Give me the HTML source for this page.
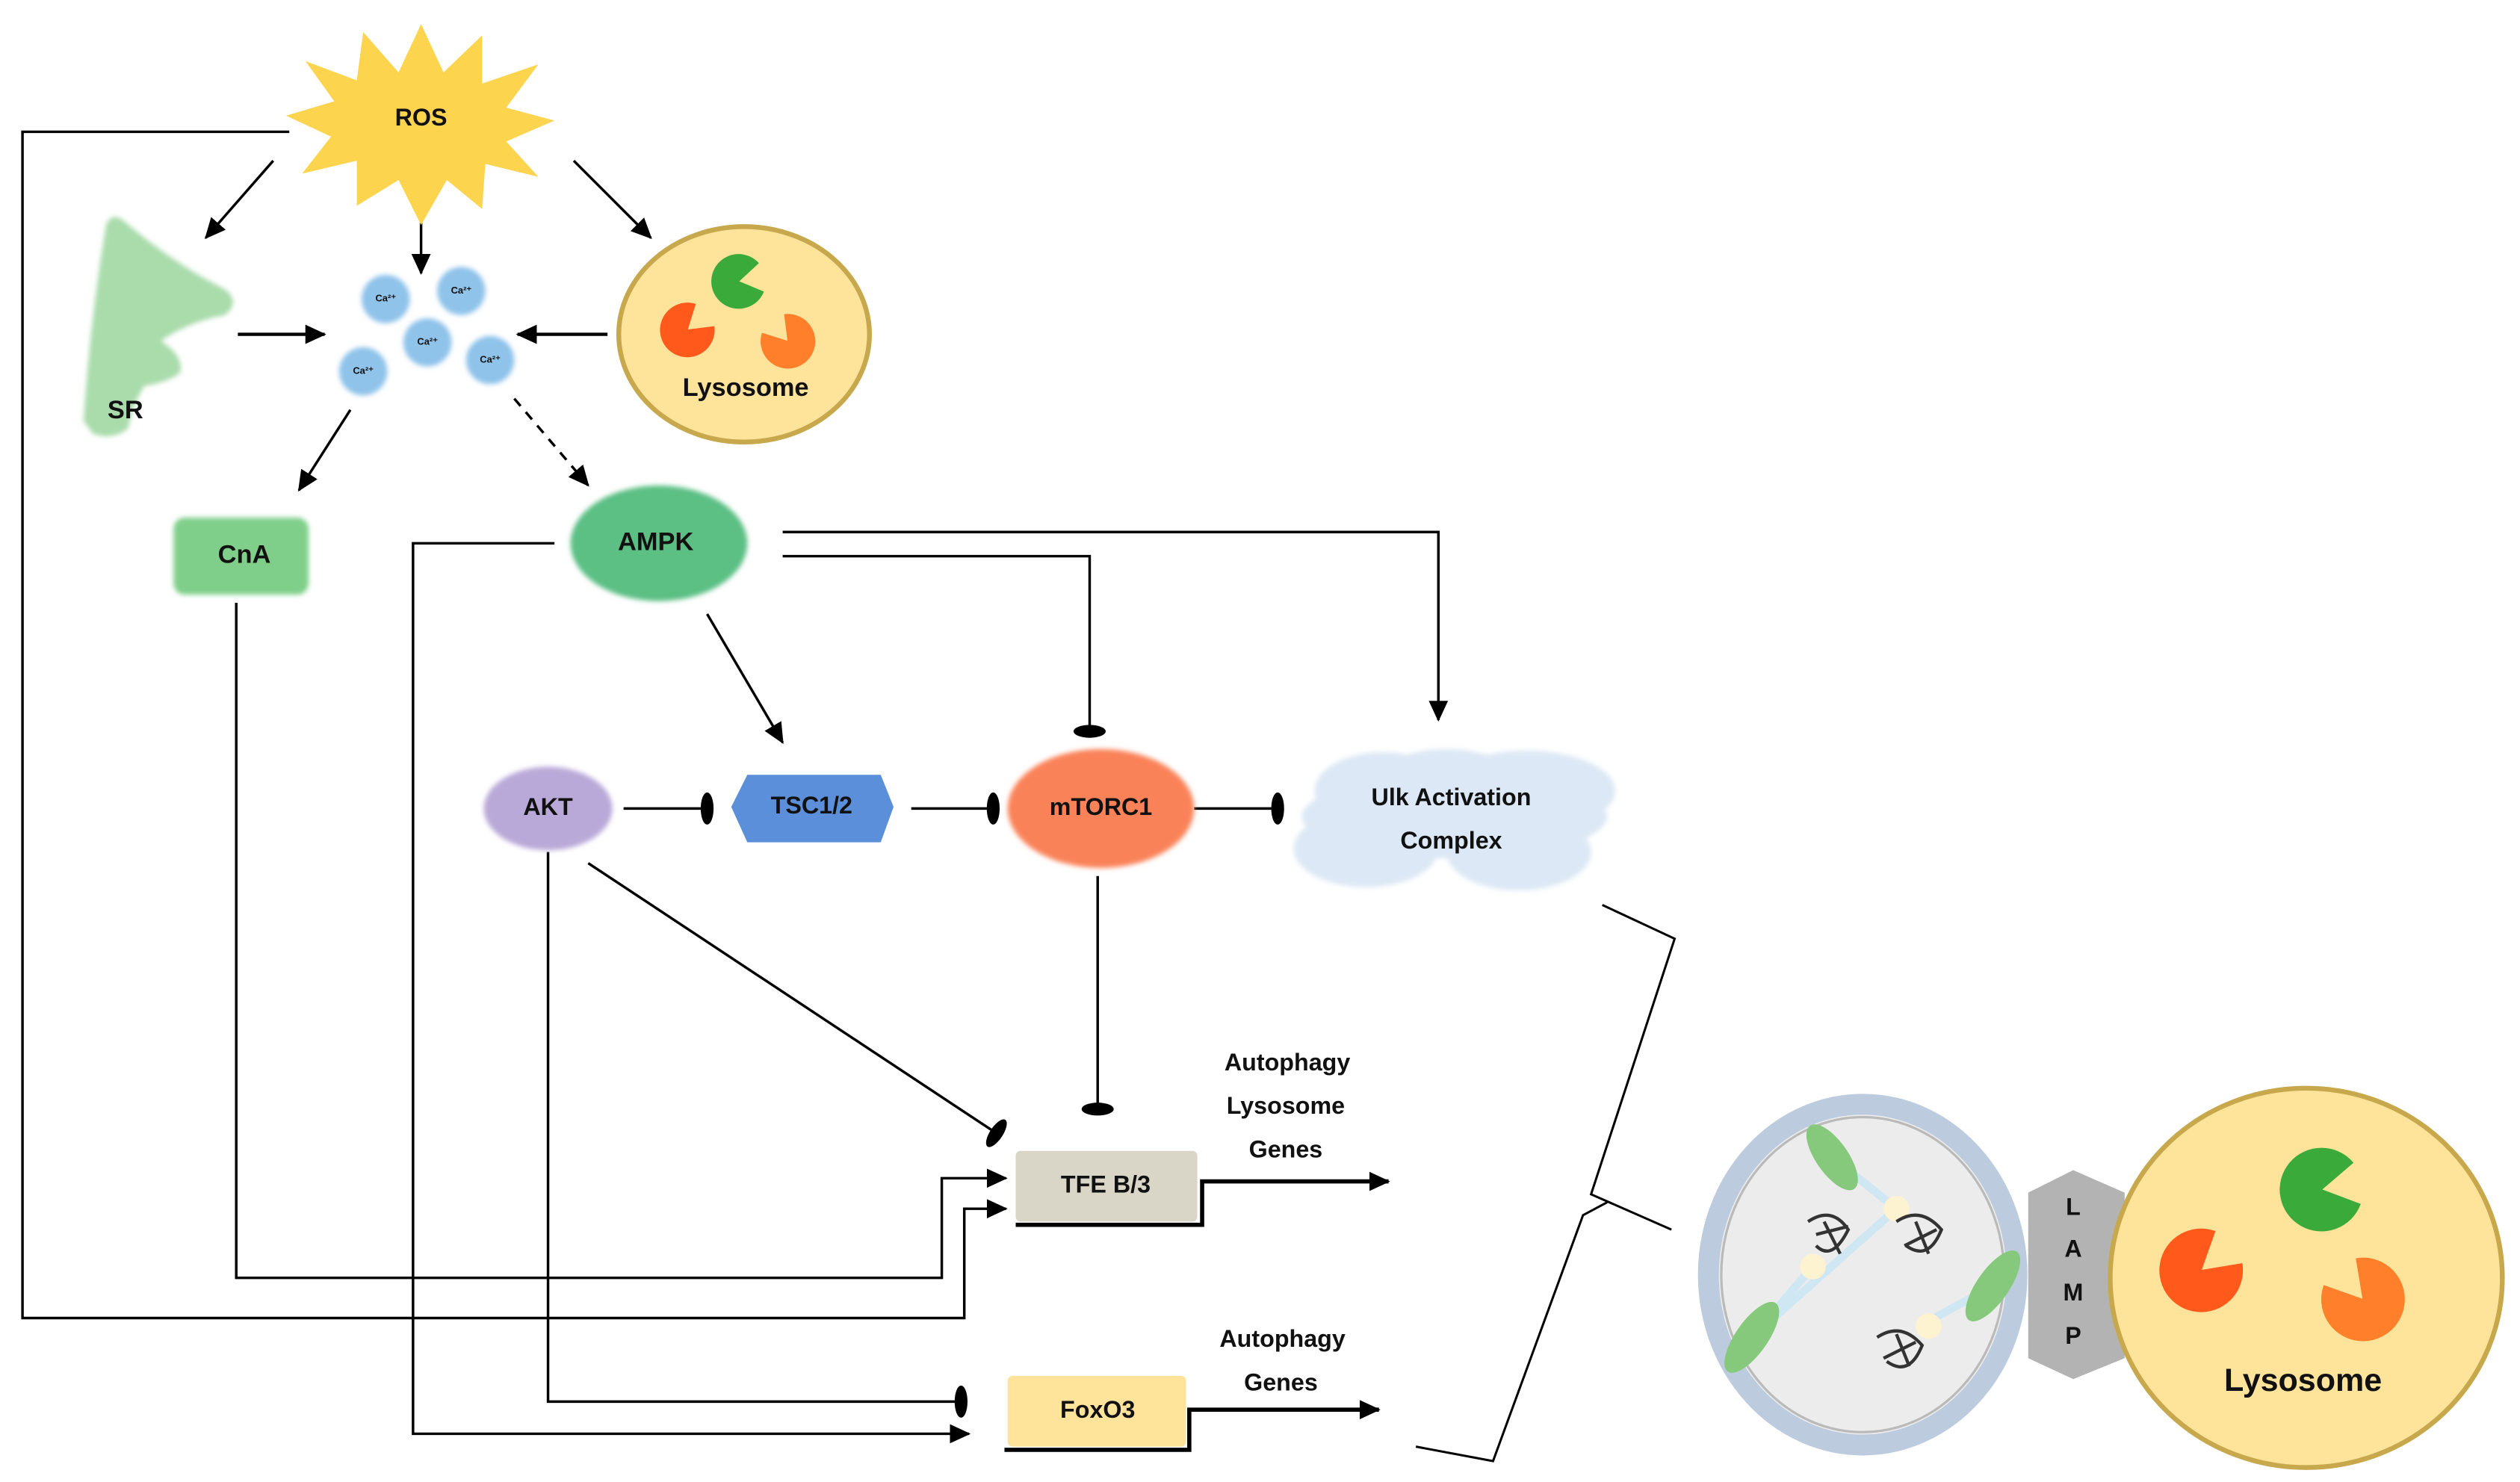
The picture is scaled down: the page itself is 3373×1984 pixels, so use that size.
<!DOCTYPE html>
<html><head><meta charset="utf-8"><style>
html,body{margin:0;padding:0;background:#fff;}
svg{display:block;}
text{font-family:"Liberation Sans",sans-serif;font-weight:bold;fill:#111;text-anchor:middle;dominant-baseline:middle;}
</style></head><body>
<svg width="3373" height="1984" viewBox="0 0 1568 922" preserveAspectRatio="none" xmlns="http://www.w3.org/2000/svg">
<defs>
<marker id="ar" markerUnits="userSpaceOnUse" markerWidth="14" markerHeight="12" refX="12" refY="6" orient="auto"><path d="M0,0 L13,6 L0,12 Z" fill="#000"/></marker>
<marker id="bar" markerUnits="userSpaceOnUse" markerWidth="10" markerHeight="24" refX="5" refY="12" orient="auto"><ellipse cx="5" cy="12" rx="4" ry="10" fill="#000"/></marker>
<filter id="bl"><feGaussianBlur stdDeviation="1.5"/></filter>
</defs>
<g fill="none" stroke="#000" stroke-width="1.6">
<path d="M180,82 H14 V820 H600 V752 H626" marker-end="url(#ar)"/>
<path d="M170,100 L128,148" marker-end="url(#ar)"/>
<path d="M262,115 V170" marker-end="url(#ar)"/>
<path d="M357,100 L405,148" marker-end="url(#ar)"/>
<path d="M148,208 H202" stroke-width="2" marker-end="url(#ar)"/>
<path d="M378,208 H322" stroke-width="2" marker-end="url(#ar)"/>
<path d="M218,255 L186,305" marker-end="url(#ar)"/>
<path d="M320,248 L366,302" stroke-dasharray="6,5" marker-end="url(#ar)"/>
<path d="M147,375 V795 H586 V733 H626" marker-end="url(#ar)"/>
<path d="M345,338 H257 V892 H603" marker-end="url(#ar)"/>
<path d="M487,331 H895 V448" marker-end="url(#ar)"/>
<path d="M487,346 H678 V455" marker-end="url(#bar)"/>
<path d="M440,382 L487,462" marker-end="url(#ar)"/>
<path d="M388,503 H440" marker-end="url(#bar)"/>
<path d="M567,503 H618" marker-end="url(#bar)"/>
<path d="M743,503 H795" marker-end="url(#bar)"/>
<path d="M683,545 V690" marker-end="url(#bar)"/>
<path d="M341,530 V872 H598" marker-end="url(#bar)"/>
<path d="M366,537 L620,705" marker-end="url(#bar)"/>
<path d="M632,762 H748 V735 H864" stroke-width="2.6" marker-end="url(#ar)"/>
<path d="M625,902 H740 V877 H858" stroke-width="2.6" marker-end="url(#ar)"/>
<path d="M997,563 L1042,584 L990,743 L1040,765 M1000,748 L985,756 L929,909 L881,900" stroke-width="1.4"/>
</g>
<polygon fill="#fdd44e" points="262,15 276,45 300,22 300,52 335,40 315,67 345,75 315,88 335,110 302,102 300,130 278,112 262,140 248,112 222,128 222,100 188,108 206,85 178,72 208,63 190,38 222,50 226,20 248,45"/>
<text x="262" y="74" font-size="15">ROS</text>
<path d="M52,262 Q56,200 66,140 Q70,130 80,140 Q110,165 140,180 Q150,188 140,196 Q118,200 100,212 Q115,222 112,232 Q104,238 90,240 Q82,252 80,266 Q72,274 58,270 Z" fill="#a9dbab" filter="url(#bl)"/>
<text x="78" y="256" font-size="16">SR</text>
<g fill="#8fc3ea" filter="url(#bl)">
<circle cx="240" cy="186" r="15"/><circle cx="287" cy="181" r="15"/><circle cx="266" cy="213" r="15"/><circle cx="226" cy="231" r="15"/><circle cx="305" cy="224" r="15"/></g>
<g font-size="6"><text x="240" y="186">Ca²⁺</text><text x="287" y="181">Ca²⁺</text><text x="266" y="213">Ca²⁺</text><text x="226" y="231">Ca²⁺</text><text x="305" y="224">Ca²⁺</text></g>
<ellipse cx="463" cy="208" rx="78" ry="67" fill="#fde49a" stroke="#c8a84c" stroke-width="3"/>
<path transform="translate(460,175) rotate(-10)" d="M0,0 L14,-9 A17,17 0 1 0 14,9 Z" fill="#3aaa3a"/>
<path transform="translate(428,205) rotate(-40)" d="M0,0 L14,-9 A17,17 0 1 0 14,9 Z" fill="#ff5a1c"/>
<path transform="translate(490,212) rotate(-130)" d="M0,0 L14,-9 A17,17 0 1 0 14,9 Z" fill="#ff7f2a"/>
<text x="464" y="242" font-size="16">Lysosome</text>
<rect x="108" y="322" width="84" height="48" rx="7" fill="#7fcf8a" filter="url(#bl)"/>
<text x="152" y="346" font-size="16">CnA</text>
<ellipse cx="410" cy="338" rx="55" ry="36" fill="#5cbf84" filter="url(#bl)"/>
<text x="408" y="338" font-size="16">AMPK</text>
<ellipse cx="341" cy="503" rx="40" ry="26" fill="#b9a9d8" filter="url(#bl)"/>
<text x="341" y="503" font-size="15">AKT</text>
<polygon points="465,482 548,482 556,502 548,524 465,524 455,502" fill="#5b8fd9"/>
<text x="505" y="502" font-size="15">TSC1/2</text>
<ellipse cx="685" cy="503" rx="58" ry="37" fill="#fa8258" filter="url(#bl)"/>
<text x="685" y="503" font-size="15">mTORC1</text>
<g fill="#dce8f5" filter="url(#bl)">
<ellipse cx="860" cy="492" rx="42" ry="24"/><ellipse cx="950" cy="492" rx="55" ry="25"/><ellipse cx="905" cy="508" rx="95" ry="26"/><ellipse cx="850" cy="528" rx="45" ry="24"/><ellipse cx="945" cy="530" rx="45" ry="24"/><ellipse cx="900" cy="488" rx="45" ry="22"/></g>
<text x="903" y="497" font-size="15">Ulk Activation</text>
<text x="903" y="524" font-size="15">Complex</text>
<rect x="632" y="716" width="113" height="44" rx="3" fill="#d9d6c8"/>
<text x="688" y="738" font-size="15">TFE B/3</text>
<g font-size="15"><text x="801" y="662">Autophagy</text><text x="800" y="689">Lysosome</text><text x="800" y="716">Genes</text>
<text x="798" y="834">Autophagy</text><text x="797" y="861">Genes</text></g>
<rect x="627" y="856" width="111" height="44" rx="3" fill="#fde49a"/>
<text x="683" y="878" font-size="15">FoxO3</text>
<ellipse cx="1159" cy="793" rx="96" ry="106" fill="#ececec" stroke="#bccbde" stroke-width="13"/>
<ellipse cx="1159" cy="793" rx="88" ry="98" fill="none" stroke="#999" stroke-width="1.5" opacity="0.6"/>
<g stroke="#cfe6f3" stroke-width="5"><line x1="1090" y1="832" x2="1180" y2="752"/><line x1="1140" y1="720" x2="1180" y2="752"/><line x1="1200" y1="822" x2="1240" y2="800"/><line x1="1090" y1="832" x2="1128" y2="788"/></g>
<g fill="#86c97c"><ellipse cx="1140" cy="720" rx="10" ry="24" transform="rotate(-35 1140 720)"/><ellipse cx="1090" cy="832" rx="10" ry="26" transform="rotate(35 1090 832)"/><ellipse cx="1240" cy="800" rx="10" ry="26" transform="rotate(35 1240 800)"/></g>
<g fill="#fdf3d0"><circle cx="1180" cy="752" r="8"/><circle cx="1128" cy="788" r="8"/><circle cx="1200" cy="825" r="8"/></g>
<g fill="none" stroke="#333" stroke-width="2"><path d="M1125,760 q15,-10 25,5 q-10,20 -20,10 M1130,768 l20,-5 M1135,760 l10,20"/><path d="M1180,760 q15,-10 28,5 q-8,20 -22,10 M1185,775 l20,-10 M1192,760 l8,20"/><path d="M1168,832 q15,-10 28,5 q-8,20 -22,10 M1172,845 l20,-10 M1180,830 l8,20"/></g>
<polygon points="1290,728 1322,742 1322,845 1290,858 1262,845 1262,742" fill="#b3b3b3"/>
<g font-size="15" font-weight="normal"><text x="1290" y="752">L</text><text x="1290" y="778">A</text><text x="1290" y="805">M</text><text x="1290" y="832">P</text></g>
<ellipse cx="1435" cy="795" rx="122" ry="118" fill="#fde49a" stroke="#c8a84c" stroke-width="3"/>
<path transform="translate(1445,740) rotate(-10)" d="M0,0 L22,-13 A26,26 0 1 0 22,13 Z" fill="#3aaa3a"/>
<path transform="translate(1370,790) rotate(-40)" d="M0,0 L22,-13 A26,26 0 1 0 22,13 Z" fill="#ff5a1c"/>
<path transform="translate(1470,808) rotate(-130)" d="M0,0 L22,-13 A26,26 0 1 0 22,13 Z" fill="#ff7f2a"/>
<text x="1433" y="860" font-size="20">Lysosome</text>
</svg>
</body></html>
